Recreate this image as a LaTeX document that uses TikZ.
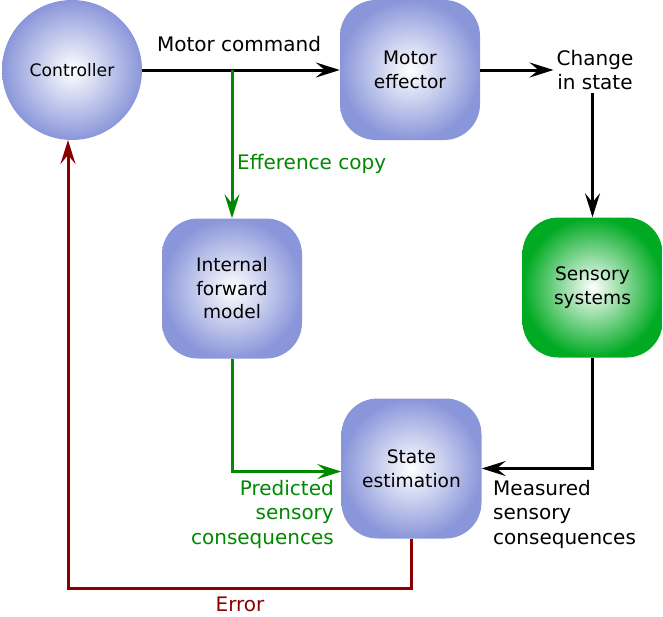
\documentclass[tikz,border=0pt]{standalone}
\usepackage{fontspec}
\setmainfont{DejaVu Sans}
\usetikzlibrary{arrows.meta}
\definecolor{boxblue}{RGB}{138,150,218}
\definecolor{boxgreen}{RGB}{0,170,34}
\definecolor{lgreen}{RGB}{0,136,0}
\definecolor{dred}{RGB}{139,0,0}
\tikzset{
  bluebox/.style={rounded corners=36pt, minimum width=140pt, minimum height=140pt, inner sep=0pt, align=center, inner color=white, outer color=boxblue, font=\fontsize{18.6}{23.5}\selectfont},
  greenbox/.style={bluebox, outer color=boxgreen},
  ctrlnode/.style={circle, minimum size=140pt, inner sep=0pt, inner color=white, outer color=boxblue, font=\fontsize{17.2}{21}\selectfont},
  lbl/.style={inner sep=0pt, font=\fontsize{20}{24.5}\selectfont},
  arrtip/.style={-{Stealth[length=24pt,width=15pt,inset=9pt]}},
  blk/.style={line width=3pt, black, arrtip},
  grn/.style={line width=3pt, lgreen, arrtip},
  rdl/.style={line width=3pt, dred, arrtip},
}
\begin{document}
\begin{tikzpicture}[x=1pt,y=-1pt]
\useasboundingbox (0,0) rectangle (663,616);
\node[ctrlnode] (ctrl) at (72,70) {Controller};
\node[bluebox] (mot) at (410,70) {Motor\\effector};
\node[bluebox] (ifm) at (232,288.5) {Internal\\forward\\model};
\node[greenbox] (sens) at (592.5,287.5) {Sensory\\systems};
\node[bluebox] (st) at (411.5,468.5) {State\\estimation};
\node[lbl, align=center, inner sep=3pt] (chg) at (595,70) {Change\\in state};
\node[lbl] (mc) at (239,44) {Motor command};
\node[lbl, text=lgreen, anchor=west] (ec) at (237,164) {Efference copy};
\node[lbl, text=lgreen, align=right, anchor=north east] (pred) at (334,480) {Predicted\\sensory\\consequences};
\node[lbl, align=left, anchor=north west] (meas) at (493,480) {Measured\\sensory\\consequences};
\node[lbl, text=dred] (err) at (240,604) {Error};
\coordinate (br) at (232,70);
\coordinate (ctrlin) at (68,140);
\draw[blk] (ctrl) -- (mot);
\draw[grn] (br) -- (ifm.north);
\draw[blk] (mot) -- (chg);
\draw[blk] (sens.north |- chg.south) -- (sens.north);
\draw[blk] (sens.south) |- (st.east);
\draw[grn] (ifm.south) |- ([yshift=-3pt]st.west);
\draw[rdl] (st.south) -- ++(0,50) -| (ctrlin);
\end{tikzpicture}
\end{document}
